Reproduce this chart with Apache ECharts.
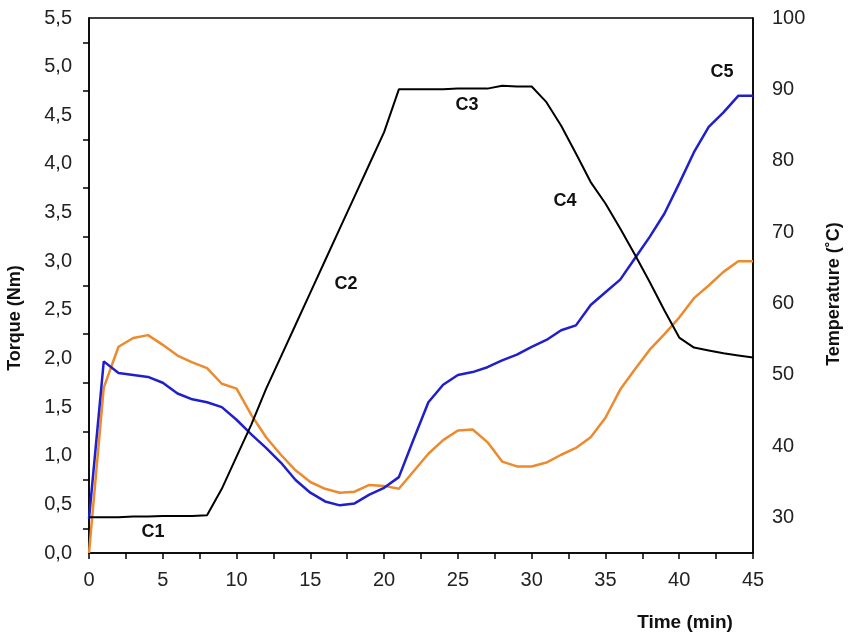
<!DOCTYPE html>
<html>
<head>
<meta charset="utf-8">
<script src="https://cdn.jsdelivr.net/npm/echarts@6/dist/echarts.min.js"></script>
<style>
  html, body { margin: 0; padding: 0; background: #fff; }
  #chart { width: 851px; height: 642px; }
</style>
</head>
<body>
<div id="chart"></div>
<script>
// time in minutes
var time = [0, 1, 2, 3, 4, 5, 6, 7, 8, 9, 10, 11, 12, 13, 14, 15, 16, 17, 18, 19, 20, 21, 22,
  23, 24, 25, 26, 27, 28, 29, 30, 31, 32, 33, 34, 35, 36, 37, 38, 39, 40, 41, 42, 43, 44, 45];
// torque, blue curve (Nm)
var torqueBlue = [0.35, 1.97, 1.85, 1.83, 1.81, 1.75, 1.64, 1.58, 1.55, 1.50, 1.37, 1.22, 1.08,
  0.93, 0.75, 0.62, 0.53, 0.49, 0.51, 0.60, 0.67, 0.78, 1.17, 1.55, 1.73, 1.83, 1.86, 1.91, 1.98,
  2.04, 2.12, 2.19, 2.29, 2.34, 2.55, 2.68, 2.81, 3.03, 3.25, 3.49, 3.80, 4.12, 4.38, 4.53, 4.70, 4.70];
// torque, orange curve (Nm)
var torqueOrange = [0.00, 1.70, 2.12, 2.21, 2.24, 2.14, 2.03, 1.96, 1.90, 1.74, 1.69, 1.42, 1.19,
  1.01, 0.85, 0.73, 0.66, 0.62, 0.63, 0.70, 0.69, 0.66, 0.84, 1.02, 1.16, 1.26, 1.27, 1.14, 0.94,
  0.89, 0.89, 0.93, 1.01, 1.08, 1.19, 1.39, 1.68, 1.89, 2.09, 2.25, 2.42, 2.62, 2.75, 2.89, 3.00, 3.00];
// temperature (°C)
var temperature = [30.0, 30.0, 30.0, 30.1, 30.1, 30.2, 30.2, 30.2, 30.3, 34.0, 38.5, 43.0, 48.0,
  52.5, 57.0, 61.5, 66.0, 70.5, 75.0, 79.5, 84.0, 90.0, 90.0, 90.0, 90.0, 90.1, 90.1, 90.1, 90.5,
  90.4, 90.4, 88.2, 84.9, 81.0, 77.0, 74.0, 70.5, 66.8, 63.0, 59.0, 55.2, 53.8, 53.4, 53.0, 52.7, 52.4];
// stage labels
var stages = ['C1', 'C2', 'C3', 'C4', 'C5'];

var font = 'Liberation Sans, Arial, sans-serif';

function pairs(vals) {
  return time.map(function(t, i) { return [t, vals[i]]; });
}

var stagePos = [[153, 532], [346, 284], [467, 105], [565, 201], [722, 72]];
var stageText = stages.map(function(s, i) {
  return {
    type: 'text',
    x: stagePos[i][0],
    y: stagePos[i][1],
    style: {
      text: s,
      font: 'bold 18px ' + font,
      fill: '#111',
      align: 'center',
      verticalAlign: 'middle'
    }
  };
});

function title(text, x, y, size, rot) {
  return {
    type: 'text',
    x: x,
    y: y,
    rotation: rot,
    style: {
      text: text,
      font: 'bold ' + size + 'px ' + font,
      fill: '#111',
      align: 'center',
      verticalAlign: 'middle'
    }
  };
}

var myChart = echarts.init(document.getElementById('chart'));
var option = {
  animation: false,
  backgroundColor: '#fff',
  grid: {
    left: 89,
    right: 98,
    top: 18,
    bottom: 89,
    show: true,
    borderColor: '#000',
    borderWidth: 1.5,
    backgroundColor: 'transparent'
  },
  xAxis: {
    type: 'value',
    min: 0,
    max: 45,
    interval: 2.5,
    axisLine: { lineStyle: { color: '#000', width: 1.5 } },
    axisTick: { show: true, inside: false, length: 6, lineStyle: { color: '#000', width: 1.5 } },
    splitLine: { show: false },
    axisLabel: {
      margin: 17,
      fontSize: 20,
      fontFamily: font,
      color: '#222',
      formatter: function(v) { return v % 5 === 0 ? String(v) : ''; }
    }
  },
  yAxis: [{
    type: 'value',
    min: 0,
    max: 5.5,
    interval: 0.5,
    axisLine: { show: true, lineStyle: { color: '#000', width: 1.5 } },
    axisTick: { show: false },
    minorTick: { show: true, splitNumber: 2, length: 6, lineStyle: { color: '#000', width: 1.5 } },
    splitLine: { show: false },
    minorSplitLine: { show: false },
    axisLabel: {
      margin: 17,
      fontSize: 20,
      fontFamily: font,
      color: '#222',
      formatter: function(v) { return v.toFixed(1).replace('.', ','); }
    }
  }, {
    type: 'value',
    position: 'right',
    min: 25,
    max: 100,
    interval: 5,
    axisLine: { show: true, lineStyle: { color: '#000', width: 1.5 } },
    axisTick: { show: false },
    splitLine: { show: false },
    axisLabel: {
      margin: 19,
      fontSize: 20,
      fontFamily: font,
      color: '#222',
      formatter: function(v) { return v % 10 === 0 ? String(v) : ''; }
    }
  }],
  series: [{
    name: 'Torque A',
    type: 'line',
    data: pairs(torqueBlue),
    symbol: 'none',
    lineStyle: { color: '#1f1fcc', width: 2.5 },
    z: 3
  }, {
    name: 'Torque B',
    type: 'line',
    data: pairs(torqueOrange),
    symbol: 'none',
    lineStyle: { color: '#ec8a2d', width: 2.5 },
    z: 2
  }, {
    name: 'Temperature',
    type: 'line',
    yAxisIndex: 1,
    data: pairs(temperature),
    symbol: 'none',
    lineStyle: { color: '#000', width: 2 },
    z: 4
  }],
  graphic: stageText.concat([
    title('Torque (Nm)', 15, 318, 18, Math.PI / 2),
    title('Temperature (˚C)', 834, 294, 18, Math.PI / 2),
    title('Time (min)', 685, 623, 19, 0)
  ])
};
myChart.setOption(option);
</script>
</body>
</html>
